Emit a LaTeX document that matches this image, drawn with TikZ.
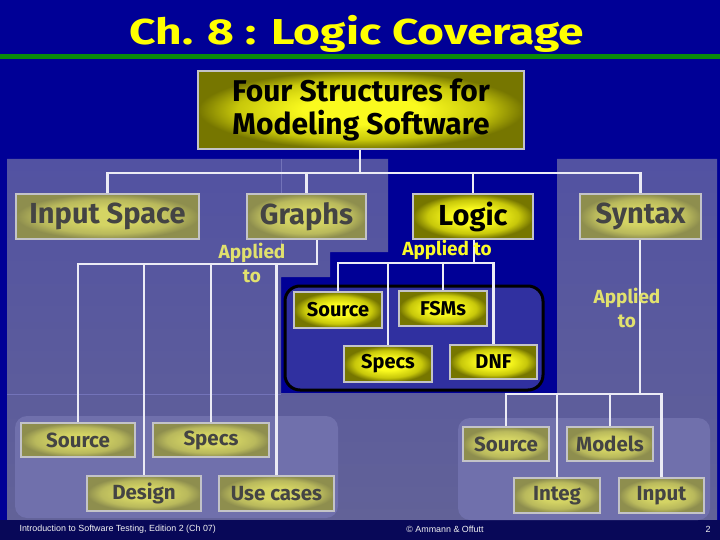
\documentclass[tikz,border=0pt]{standalone}
\usepackage{fontspec}
\usepackage{graphicx}
\setmainfont{Fira Sans}
\newfontfamily\footfont{Liberation Sans}
\definecolor{bgblue}{RGB}{0,0,150}
\definecolor{lightreg}{RGB}{82,82,162}
\definecolor{lightreg2}{RGB}{98,98,152}
\definecolor{grpfill}{RGB}{112,112,172}
\definecolor{darkbox}{RGB}{48,48,160}
\definecolor{footblue}{RGB}{8,8,88}
\definecolor{titlegreen}{RGB}{10,140,10}
\definecolor{titleyellow}{RGB}{255,255,0}
\definecolor{brin}{RGB}{250,250,30}
\definecolor{brmid}{RGB}{200,200,10}
\definecolor{brout}{RGB}{118,118,0}
\definecolor{fdin}{RGB}{212,212,100}
\definecolor{fdmid}{RGB}{185,185,92}
\definecolor{fdout}{RGB}{142,142,78}
\definecolor{fdtext}{RGB}{68,68,68}
\definecolor{boxborder}{RGB}{195,195,200}
\definecolor{appbright}{RGB}{250,250,40}
\definecolor{appfaded}{RGB}{225,225,110}
\definecolor{seam}{RGB}{115,115,185}
\definecolor{connwhite}{RGB}{235,235,245}
\pgfdeclareradialshading{brshade}{\pgfpoint{0bp}{0bp}}{color(0bp)=(brin); color(9bp)=(brin); color(19bp)=(brmid); color(25bp)=(brout); color(50bp)=(brout)}
\pgfdeclareradialshading{fdshade}{\pgfpoint{0bp}{0bp}}{color(0bp)=(fdin); color(9bp)=(fdin); color(19bp)=(fdmid); color(25bp)=(fdout); color(50bp)=(fdout)}
\begin{document}
\begin{tikzpicture}[x=1pt,y=-1pt,
  boxbase/.style={draw=boxborder, line width=2.5pt, inner sep=0pt, align=center},
  bright/.style={boxbase, shading=brshade, text=black},
  faded/.style={boxbase, shading=fdshade, text=fdtext},
  bigtxt/.style={font=\bfseries\fontsize{29}{33}\selectfont},
  smalltxt/.style={font=\bfseries\fontsize{20}{24}\selectfont},
  lowtxt/.style={font=\bfseries\fontsize{20.5}{24}\selectfont},
  conn/.style={draw=connwhite, line width=2.5pt},
  appl/.style={font=\bfseries\fontsize{19}{24}\selectfont, align=center},
  foot/.style={font=\footfont\fontsize{8.9}{10}\selectfont, text=white!90!gray}
]
\useasboundingbox (0,0) rectangle (720,540);
% background
\fill[bgblue] (0,0) rectangle (720,540);
\shade[top color=lightreg, bottom color=lightreg2]
  (7,159) -- (388,159) -- (388,252) -- (330,252) -- (330,277) -- (281,277)
  -- (281,393) -- (557,393) -- (557,159) -- (717,159) -- (717,520)
  -- (7,520) -- cycle;
\draw[seam, line width=0.7pt] (281,159) -- (281,252);
\draw[seam, line width=0.7pt] (7,394) -- (281,394);
\draw[seam, line width=0.7pt] (557,393) -- (557,520);
\fill[footblue] (0,520) rectangle (720,540);
% groups
\fill[grpfill, rounded corners=12pt] (15,416) rectangle (338,518);
\fill[grpfill, rounded corners=12pt] (458,418) rectangle (710,520);
\draw[black, line width=3pt, fill=darkbox, rounded corners=15pt] (285,286) rectangle (543,390);
% title
\node[anchor=base, text=titleyellow, font=\bfseries\fontsize{36}{40}\selectfont] (title) at (357,45) {\scalebox{1.28}[1]{Ch. 8 : Logic Coverage}};
\fill[titlegreen] (0,54.5) rectangle (720,59.5);
% nodes
\node[bright, minimum width=326pt, minimum height=78pt, font=\bfseries\fontsize{30}{33}\selectfont] (top) at (361,110) {Four Structures for\\Modeling Software};
\node[faded, bigtxt, minimum width=183pt, minimum height=45pt] (inp) at (107.5,216.5) {Input Space};
\node[faded, bigtxt, minimum width=119pt, minimum height=45pt] (gra) at (306.5,216.5) {Graphs};
\node[bright, bigtxt, minimum width=120pt, minimum height=45pt] (log) at (473,216.5) {Logic};
\node[faded, bigtxt, minimum width=121pt, minimum height=45pt] (syn) at (640.5,216.5) {Syntax};
% logic children
\node[bright, smalltxt, minimum width=88pt, minimum height=36pt] (dsrc) at (338,310) {Source};
\node[bright, smalltxt, minimum width=88pt, minimum height=35pt] (dfsm) at (443,308.5) {FSMs};
\node[bright, smalltxt, minimum width=88pt, minimum height=36pt] (dspc) at (388,364) {Specs};
\node[bright, smalltxt, minimum width=87pt, minimum height=34pt] (ddnf) at (493.5,362) {DNF};
% graph children
\node[faded, lowtxt, minimum width=114pt, minimum height=34pt] (lsrc) at (78,440) {Source};
\node[faded, lowtxt, minimum width=116pt, minimum height=34pt] (lspc) at (211,440) {Specs};
\node[faded, lowtxt, minimum width=114pt, minimum height=35pt] (ldes) at (144,493.5) {Design};
\node[faded, lowtxt, minimum width=115pt, minimum height=35pt] (luse) at (276.5,493.5) {Use cases};
% syntax children
\node[faded, lowtxt, minimum width=86pt, minimum height=34pt] (rsrc) at (506,444) {Source};
\node[faded, lowtxt, minimum width=86pt, minimum height=34pt] (rmod) at (610,444) {Models};
\node[faded, lowtxt, minimum width=86pt, minimum height=35pt] (rint) at (557,495.5) {Integ};
\node[faded, lowtxt, minimum width=85pt, minimum height=35pt] (rinp) at (661.5,495.5) {Input};
% connectors: top level
\coordinate (t1) at (360,173);
\draw[conn] (top.south -| t1) -- (t1);
\draw[conn] (inp.north) |- (t1) -| (syn.north);
\draw[conn] (gra.north) -- (gra.north |- t1);
\draw[conn] (log.north) -- (log.north |- t1);
% graphs
\coordinate (g1) at (317,264);
\draw[conn] (g1 |- gra.south) -- (g1) -| (lsrc.north);
\draw[conn] (ldes.north) -- (ldes.north |- g1);
\draw[conn] (lspc.north) -- (lspc.north |- g1);
\draw[conn] (luse.north) -- (luse.north |- g1);
% logic
\coordinate (l1) at (474,263);
\draw[conn] (l1 |- log.south) -- (l1);
\draw[conn] (dsrc.north) |- (l1) -| (ddnf.north);
\draw[conn] (dfsm.north) -- (dfsm.north |- l1);
\draw[conn] (dspc.north) -- (dspc.north |- l1);
% syntax
\coordinate (s1) at (640,394);
\draw[conn] (s1 |- syn.south) -- (s1);
\draw[conn] (rsrc.north) |- (s1) -| (rinp.north);
\draw[conn] (rint.north) -- (rint.north |- s1);
\draw[conn] (rmod.north) -- (rmod.north |- s1);
% applied to labels
\node[appl, text=appfaded] (ag) at (252,263) {Applied\\to};
\node[appl, text=appbright] (al) at (447,250) {Applied to};
\node[appl, text=appfaded] (as) at (627,308) {Applied\\to};
% footer
\node[foot, anchor=west] (f1) at (16,529) {Introduction to Software Testing, Edition 2 (Ch 07)};
\node[foot] (f2) at (445,529) {© Ammann \& Offutt};
\node[foot] (f3) at (708,529) {2};
\end{tikzpicture}
\end{document}
